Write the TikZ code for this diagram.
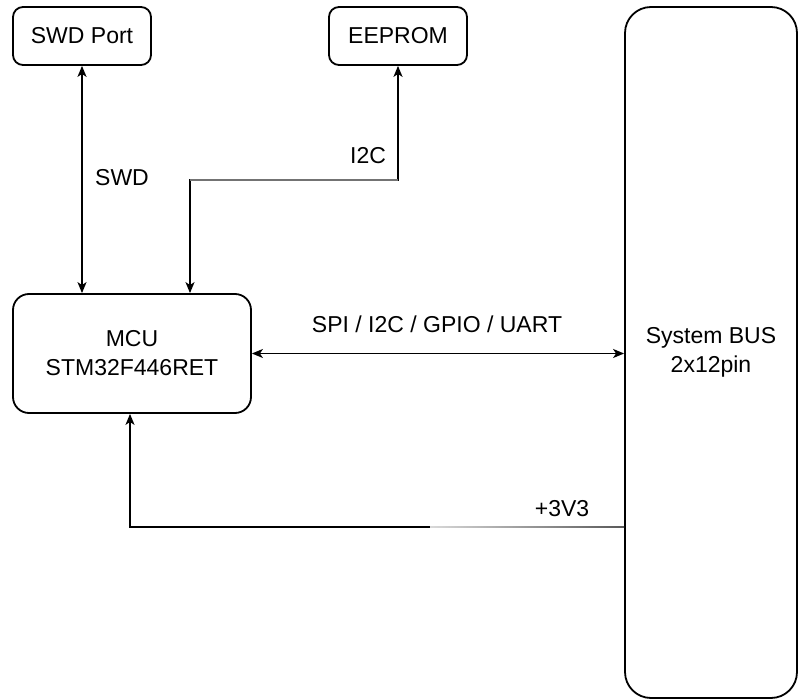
\documentclass[tikz,border=0pt]{standalone}
\usepackage{fontspec}
\setmainfont{Liberation Sans}
\usetikzlibrary{arrows.meta}
\begin{document}
\begin{tikzpicture}[x=1pt,y=-1pt,
  font=\fontsize{23}{29}\selectfont,
  block/.style={draw, line width=1.8pt, rounded corners=#1, align=center, inner sep=0pt},
  block/.default=10pt,
  wire/.style={line width=1.8pt},
  >={Stealth[length=11pt,width=9pt,inset=3pt]},
  lbl/.style={inner sep=0pt, anchor=center}]
\useasboundingbox (0,0) rectangle (798,700);

% blocks
\node[block, minimum width=138pt, minimum height=58pt] (swd) at (82,36) {SWD Port};
\node[block, minimum width=138pt, minimum height=58pt] (eeprom) at (398,36) {EEPROM};
\node[block=16pt, minimum width=238pt, minimum height=119pt] (mcu) at (132,353.5) {MCU\\STM32F446RET};
\node[block=26pt, minimum width=172pt, minimum height=691pt] (bus) at (711,352.5) {System BUS\\2x12pin};

% SWD debug link
\draw[wire, <->] (swd.south) -- (swd.south |- mcu.north);
\node[lbl] (swdlbl) at (122,178) {SWD};

% I2C link to the EEPROM
\coordinate (i2cR) at (398,180);
\coordinate (i2cL) at (190,180);
\draw[wire, <->] (eeprom.south) -- (i2cR) -- (i2cL) -- (i2cL |- mcu.north);
\draw[wire, black!55] (i2cR) -- (i2cL);
\node[lbl] (i2clbl) at (368,156) {I2C};

% peripheral bus
\draw[wire, <->] (mcu.east) -- (bus.west |- mcu.east);
\node[lbl] (spilbl) at (437,324) {SPI / I2C / GPIO / UART};

% supply rail
\coordinate (pwrL) at (130,527);
\coordinate (pwrM) at (430,527);
\draw[wire, ->] (bus.west |- pwrL) -- (pwrL) -- (pwrL |- mcu.south);
\shade[left color=white!85!black, right color=black!65]
  ([yshift=0.9pt]pwrM) rectangle ([yshift=-0.9pt]bus.west |- pwrL);
\node[lbl] (pwrlbl) at (562,509) {+3V3};
\end{tikzpicture}
\end{document}
